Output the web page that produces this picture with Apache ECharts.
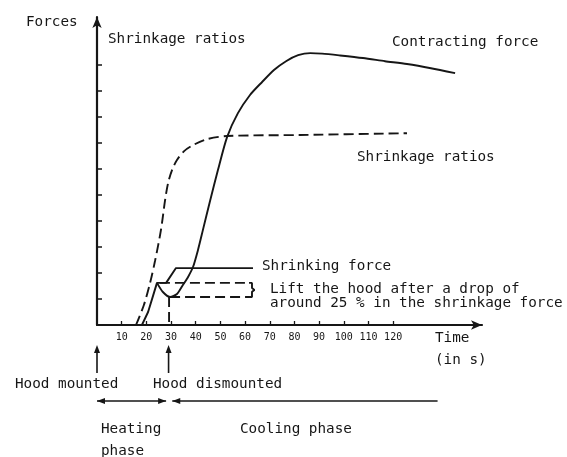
<!DOCTYPE html>
<html>
<head>
<meta charset="utf-8">
<script src="https://cdn.jsdelivr.net/npm/echarts@6/dist/echarts.min.js"></script>
<style>
  html, body { margin: 0; padding: 0; background: #fff; }
  #chart { width: 567px; height: 457px; }
</style>
</head>
<body>
<div id="chart"></div>
<script>
// time ticks (s) and force ticks (arbitrary units)
const timeTicks = [10, 20, 30, 40, 50, 60, 70, 80, 90, 100, 110, 120];
const forceTicks = [1, 2, 3, 4, 5, 6, 7, 8, 9, 10];

// shrinking force: rise while heating, then plateau after the hood is lifted
const shrinkingForce = [
  [18.2, 0], [20.7, 0.5], [22.7, 1.12], [24.3, 1.62],
  [28.0, 1.62], [32.0, 2.19], [63.2, 2.19]
];

// contracting force: drop after the peak, then builds up during cooling
const contractingForce = [
  [24.3, 1.62], [26.7, 1.27], [29.6, 1.08], [32.4, 1.19], [34.8, 1.54],
  [36.9, 1.85], [38.9, 2.23], [40.9, 2.88], [42.9, 3.65], [45.8, 4.77],
  [49.0, 5.96], [52.7, 7.23], [57.1, 8.15], [62.0, 8.85], [66.9, 9.35],
  [71.7, 9.81], [76.6, 10.15], [81.5, 10.38], [86.4, 10.46], [91.2, 10.44],
  [98.5, 10.37], [107.8, 10.27], [116.7, 10.15], [125.6, 10.04],
  [135.3, 9.88], [145.1, 9.69]
];

// shrinkage ratio (dashed)
const shrinkageRatio = [
  [15.8, 0], [19.0, 0.77], [21.5, 1.62], [23.5, 2.46], [25.9, 3.65],
  [27.6, 4.81], [28.8, 5.46], [30.4, 5.96], [32.4, 6.35], [35.3, 6.69],
  [38.9, 6.92], [44.6, 7.15], [52.7, 7.27], [82.3, 7.31], [125.6, 7.38]
];

// 25 % drop markers
const dropTop = [[25.5, 1.62], [61.6, 1.62]];
const dropBottom = [[29.6, 1.08], [61.6, 1.08]];
const dropBracket = [[61.6, 1.62], [62.8, 1.62], [62.8, 1.42], [63.8, 1.35], [62.8, 1.28], [62.8, 1.08], [61.6, 1.08]];
const dismountMark = [[29.2, 1.08], [29.2, 0]];

// events on the time axis (s)
const hoodMountedAt = 0;
const hoodDismountedAt = 29;
const heatingPhase = [0, 28];
const coolingPhase = [30.5, 138];

const ink = "#161616";
const font = "DejaVu Sans Mono";

const chart = echarts.init(document.getElementById("chart"));

const lineSeries = (data, dashed, smooth) => ({
  type: "line",
  data: data,
  showSymbol: false,
  smooth: smooth || false,
  silent: true,
  lineStyle: { color: ink, width: 1.9, type: dashed ? [10, 5] : "solid" },
});

chart.setOption({
  animation: false,
  backgroundColor: "#fff",
  grid: { left: 97, right: 85, top: 17, bottom: 132 },
  xAxis: {
    type: "value",
    min: 0,
    max: 156,
    splitLine: { show: false },
    axisLine: {
      symbol: ["none", "arrow"],
      symbolSize: [7, 11],
      lineStyle: { color: ink, width: 2.2 },
    },
    axisTick: {
      customValues: timeTicks,
      inside: true,
      length: 4,
      lineStyle: { color: ink, width: 1.3 },
    },
    axisLabel: {
      customValues: timeTicks,
      fontFamily: font,
      fontSize: 10,
      color: ink,
      margin: 7,
    },
  },
  yAxis: {
    type: "value",
    min: 0,
    max: 11.85,
    splitLine: { show: false },
    axisLine: {
      symbol: ["none", "arrow"],
      symbolSize: [7, 11],
      lineStyle: { color: ink, width: 2.2 },
    },
    axisTick: {
      customValues: forceTicks,
      inside: true,
      length: 5,
      lineStyle: { color: ink, width: 1.5 },
    },
    axisLabel: { show: false },
  },
  series: [
    lineSeries(shrinkingForce, false, false),
    lineSeries(contractingForce, false, 0.25),
    lineSeries(shrinkageRatio, true, 0.3),
    lineSeries(dropTop, true, false),
    lineSeries(dropBottom, true, false),
    lineSeries(dropBracket, false, false),
    lineSeries(dismountMark, true, false),
  ],
});

// annotations below the chart, placed from the time scale
const px = (t) => chart.convertToPixel({ gridIndex: 0 }, [t, 0])[0];

const text = (str, x, y) => ({
  type: "text",
  x: x,
  y: y,
  style: {
    text: str,
    fill: ink,
    font: "14.3px " + font,
    textVerticalAlign: "middle",
  },
});

const upArrow = (t) => {
  const x = px(t);
  return [
    { type: "line", shape: { x1: x, y1: 373, x2: x, y2: 352 }, style: { stroke: ink, lineWidth: 1.6 } },
    { type: "polygon", shape: { points: [[x - 3, 353], [x + 3, 353], [x, 345]] }, style: { fill: ink } },
  ];
};

const head = (x, dir) => ({
  type: "polygon",
  shape: { points: [[x, 401], [x + dir * 8, 398], [x + dir * 8, 404]] },
  style: { fill: ink },
});

const h0 = px(heatingPhase[0]);
const h1 = px(heatingPhase[1]);
const c0 = px(coolingPhase[0]);
const c1 = px(coolingPhase[1]);

chart.setOption({
  graphic: [
    text("Forces", 26, 22),
    text("Shrinkage ratios", 108, 39),
    text("Contracting force", 392, 42),
    text("Shrinkage ratios", 357, 157),
    text("Shrinking force", 262, 266),
    text("Lift the hood after a drop of", 270, 289),
    text("around 25 % in the shrinkage force", 270, 303),
    text("Time", 435, 338),
    text("(in s)", 435, 360),
    text("Hood mounted", 15, 384),
    text("Hood dismounted", 153, 384),
    text("Heating", 101, 429),
    text("phase", 101, 451),
    text("Cooling phase", 240, 429),
    ...upArrow(hoodMountedAt),
    ...upArrow(hoodDismountedAt),
    { type: "line", shape: { x1: h0, y1: 401, x2: h1, y2: 401 }, style: { stroke: ink, lineWidth: 1.6 } },
    head(h0, 1),
    head(h1, -1),
    { type: "line", shape: { x1: c0, y1: 401, x2: c1, y2: 401 }, style: { stroke: ink, lineWidth: 1.6 } },
    head(c0, 1),
  ],
});
</script>
</body>
</html>
